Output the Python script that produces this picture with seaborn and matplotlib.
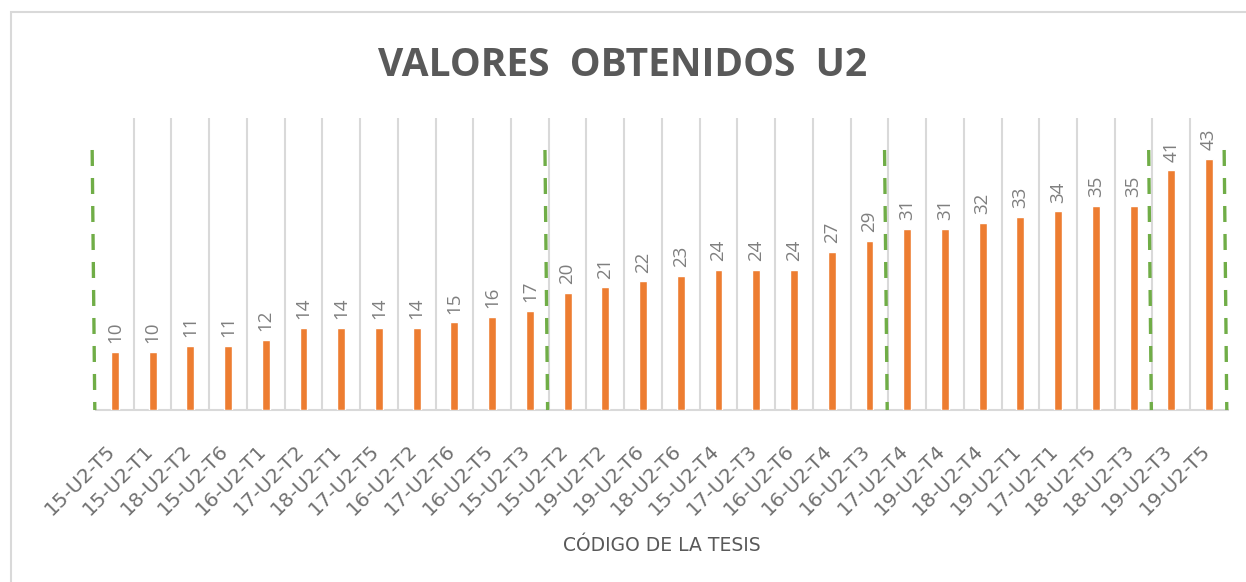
import numpy as np
import pandas as pd
import matplotlib
matplotlib.use("Agg")
import matplotlib.pyplot as plt
from matplotlib.patches import Rectangle
from matplotlib.transforms import ScaledTranslation
import seaborn as sns

# data
codes = ["15-U2-T5", "15-U2-T1", "18-U2-T2", "15-U2-T6", "16-U2-T1", "17-U2-T2",
         "18-U2-T1", "17-U2-T5", "16-U2-T2", "17-U2-T6", "16-U2-T5", "15-U2-T3",
         "15-U2-T2", "19-U2-T2", "19-U2-T6", "18-U2-T6", "15-U2-T4", "17-U2-T3",
         "16-U2-T6", "16-U2-T4", "16-U2-T3", "17-U2-T4", "19-U2-T4", "18-U2-T4",
         "19-U2-T1", "17-U2-T1", "18-U2-T5", "18-U2-T3", "19-U2-T3", "19-U2-T5"]
values = [10, 10, 11, 11, 12, 14, 14, 14, 14, 15, 16, 17, 20, 21, 22, 23, 24, 24,
          24, 27, 29, 31, 31, 32, 33, 34, 35, 35, 41, 43]
# sizes of the groups separated by the green dashed lines
group_sizes = [12, 9, 7, 2]
guide_top = 44.5

ORANGE = "#ED7D31"
GREEN = "#70AD47"
GRID = "#D9D9D9"
TEXT = "#595959"
LABEL = "#7F7F7F"


def main():
    sns.set_style("white")
    plt.rcParams["font.family"] = ["Open Sans", "DejaVu Sans"]

    df = pd.DataFrame({"codigo": codes, "valor": values})

    fig = plt.figure(figsize=(12.46, 5.82), dpi=100)
    ax = fig.add_axes([0.077, 0.2955, 0.9085, 0.502])

    sns.barplot(data=df, x="codigo", y="valor", color=ORANGE, saturation=1,
                width=0.21, ax=ax, zorder=3)

    n = len(codes)
    ax.set_xlim(-0.5, n - 0.5)
    ax.set_ylim(0, 50)

    # category gridlines between the bars
    ax.set_xticks(np.arange(0.5, n - 1, 1.0), minor=True)
    ax.grid(axis="x", which="minor", color=GRID, linewidth=1.5, zorder=0)
    ax.grid(axis="x", which="major", visible=False)
    ax.tick_params(axis="x", which="both", length=0)

    # value labels, rotated like the original
    for i, v in enumerate(values):
        ax.text(i, v + 1.5, str(v), rotation=90, ha="center", va="bottom",
                fontsize=13.5, color=LABEL)

    # green dashed group separators
    bounds = np.concatenate([[0], np.cumsum(group_sizes)]) - 0.5
    for b in bounds:
        ax.plot([b - 0.1, b - 0.03], [guide_top, 0], color=GREEN, linewidth=2.4,
                linestyle=(0, (4.8, 3.6)), zorder=4, clip_on=False)

    ax.set_yticks([])
    ax.set_ylabel("")
    for side in ["left", "right", "top"]:
        ax.spines[side].set_visible(False)
    ax.spines["bottom"].set_color(GRID)
    ax.spines["bottom"].set_linewidth(1.5)

    ax.set_xticks(range(n))
    ax.set_xticklabels(codes, rotation=45, ha="right", rotation_mode="anchor",
                       fontsize=14.5, color="#707070", family=["DejaVu Sans"])
    ax.tick_params(axis="x", pad=22)
    shift = ScaledTranslation(-0.09, 0, fig.dpi_scale_trans)
    for lbl in ax.get_xticklabels():
        lbl.set_transform(lbl.get_transform() + shift)
    ax.set_xlabel("CÓDIGO DE LA TESIS", fontsize=13.5, color=TEXT,
                  family=["DejaVu Sans"])
    ax.xaxis.set_label_coords(0.5, -0.43)

    fig.text(0.5, 0.888, "VALORES  OBTENIDOS  U2", ha="center", va="center",
             fontsize=28, fontweight="bold", color=TEXT)

    # chart-area border
    fig.patches.append(Rectangle((11 / 1246, -0.1), 1.2, 1 - 12 / 582 + 0.1,
                                 transform=fig.transFigure, fill=False,
                                 edgecolor=GRID, linewidth=1.5))

    fig.savefig("out.png", dpi=100)


if __name__ == "__main__":
    main()
